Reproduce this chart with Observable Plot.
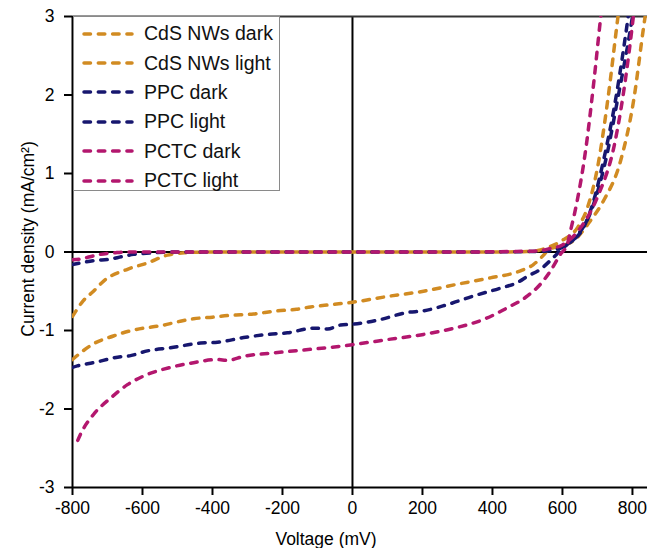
<!DOCTYPE html>
<html>
<head>
<meta charset="utf-8">
<script src="https://cdn.jsdelivr.net/npm/d3@7"></script>
<script src="https://cdn.jsdelivr.net/npm/@observablehq/plot@0.6"></script>
<style>
  html, body { margin: 0; padding: 0; background: #fff; }
  #wrap { position: relative; width: 647px; height: 548px; font-family: "Liberation Sans", Arial, sans-serif; }
  #legend { position: absolute; left: 73px; top: 16px; width: 207px; height: 175px; border: 1px solid #8a8a8a; background: #fff; box-sizing: border-box; padding-top: 2px; }
  .row { height: 29.4px; display: flex; align-items: center; font-size: 19.5px; color: #111; }
  .row svg { margin-left: 8px; margin-right: 10px; }
</style>
</head>
<body>
<div id="wrap"><div id="legend"></div></div>
<script>
// Series names and colours
const seriesNames = ["CdS NWs dark", "CdS NWs light", "PPC dark", "PPC light", "PCTC dark", "PCTC light"];
const seriesColors = ["#d18b22", "#d18b22", "#17176f", "#17176f", "#b3176e", "#b3176e"];

// Voltage (mV) / current density (mA/cm²)
const cdsDarkV = [-800,-769,-740,-711,-643,-586,-529,-480,-400,-200,0,200,400,500,530,560,600,643,671,700,729,757,770];
const cdsDarkJ = [-0.82,-0.62,-0.5,-0.37,-0.22,-0.14,-0.04,-0.01,0,0,0,0,0,0.005,0.02,0.06,0.15,0.31,0.56,1.07,1.92,2.94,3.4];

const cdsLightV = [-800,-770,-740,-683,-640,-597,-549,-500,-454,-400,-357,-320,-283,-250,-214,-160,-120,-60,0,109,203,300,394,480,517,535,548,560,600,631,680,717,766,803,833,850];
const cdsLightJ = [-1.37,-1.26,-1.17,-1.07,-1.01,-0.97,-0.94,-0.89,-0.85,-0.83,-0.81,-0.8,-0.79,-0.77,-0.75,-0.73,-0.7,-0.67,-0.64,-0.56,-0.5,-0.41,-0.33,-0.24,-0.16,-0.09,-0.03,0.03,0.08,0.14,0.4,0.65,1.16,1.92,2.9,3.4];

const ppcDarkV = [-800,-777,-740,-691,-660,-625,-600,-500,-300,0,300,500,550,600,640,680,720,760,800,810];
const ppcDarkJ = [-0.16,-0.14,-0.11,-0.09,-0.06,-0.03,-0.02,0,0,0,0,0.005,0.01,0.06,0.2,0.5,1.1,2.0,3.0,3.3];

const ppcLightV = [-800,-786,-740,-671,-634,-586,-520,-434,-386,-311,-243,-186,-111,-71,-34,0,80,157,203,271,346,423,471,500,537,574,590,614,660,689,717,751,786,800];
const ppcLightJ = [-1.47,-1.45,-1.41,-1.34,-1.32,-1.26,-1.22,-1.16,-1.15,-1.09,-1.05,-1.03,-0.97,-0.98,-0.93,-0.92,-0.86,-0.77,-0.75,-0.67,-0.56,-0.46,-0.39,-0.31,-0.22,-0.07,0,0.1,0.31,0.65,1.16,1.92,2.94,3.4];

const pctcDarkV = [-800,-777,-750,-720,-680,-650,-500,-300,0,300,500,540,560,600,650,700,750,780,800,810];
const pctcDarkJ = [-0.1,-0.09,-0.06,-0.03,-0.01,0,0,0,0,0,0.01,0.02,0.04,0.09,0.3,0.7,1.4,2.2,2.9,3.3];

const pctcLightV = [-785,-777,-740,-691,-643,-586,-520,-454,-386,-357,-311,-214,-120,-34,0,109,203,300,374,443,500,537,566,594,614,623,642,666,689,709,720];
const pctcLightJ = [-2.4,-2.32,-2.07,-1.86,-1.69,-1.56,-1.47,-1.41,-1.37,-1.38,-1.33,-1.28,-1.24,-1.2,-1.18,-1.11,-1.05,-0.96,-0.86,-0.71,-0.56,-0.41,-0.24,-0.03,0.1,0.27,0.65,1.29,2.14,2.98,3.4];

const xTicks = [-800,-600,-400,-200,0,200,400,600,800];
const yTicks = [-3,-2,-1,0,1,2,3];

const seriesV = [cdsDarkV, cdsLightV, ppcDarkV, ppcLightV, pctcDarkV, pctcLightV];
const seriesJ = [cdsDarkJ, cdsLightJ, ppcDarkJ, ppcLightJ, pctcDarkJ, pctcLightJ];

const data = seriesNames.flatMap((name, i) => seriesV[i].map((v, k) => ({series: name, v, j: seriesJ[i][k]})));

const dash = "6.5,7.8";
const font = 17.5;

const plot = Plot.plot({
  width: 647,
  height: 548,
  marginLeft: 72,
  marginRight: 0,
  marginTop: 16,
  marginBottom: 61,
  style: {fontFamily: "Liberation Sans, Arial, sans-serif", fontSize: font + "px", background: "#fff", overflow: "visible", color: "#000"},
  x: {domain: [-800, 843]},
  y: {domain: [-3, 3]},
  color: {domain: seriesNames, range: seriesColors},
  marks: [
    Plot.ruleY([0], {stroke: "#000", strokeWidth: 2}),
    Plot.ruleX([0], {stroke: "#000", strokeWidth: 2}),
    Plot.ruleY([3], {stroke: "#333", strokeWidth: 2}),
    Plot.ruleY([-3], {stroke: "#000", strokeWidth: 2}),
    Plot.ruleX([-800], {stroke: "#000", strokeWidth: 2}),
    Plot.line(data, {x: "v", y: "j", z: "series", stroke: "series", strokeWidth: 3.5, strokeDasharray: dash, strokeLinecap: "round", curve: "monotone-x", clip: true}),
    Plot.axisX({ticks: xTicks, tickSize: 8, tickPadding: 6, tickFormat: d => String(d), label: null, strokeWidth: 2, fontSize: font}),
    Plot.axisY({ticks: yTicks, tickSize: 8, tickPadding: 10, tickFormat: d => String(d), label: null, strokeWidth: 2, fontSize: font}),
    Plot.text(["Voltage (mV)"], {frameAnchor: "bottom", lineAnchor: "middle", textAnchor: "middle", dx: -34, dy: 52, fontSize: font, fill: "#000"}),
    Plot.text(["Current density (mA/cm²)"], {frameAnchor: "left", lineAnchor: "middle", textAnchor: "middle", rotate: -90, dx: -44, dy: -13, fontSize: font, fill: "#000"})
  ]
});
document.getElementById("wrap").prepend(plot);

// Legend
const legend = document.getElementById("legend");
seriesNames.forEach((name, i) => {
  const row = document.createElement("div");
  row.className = "row";
  row.innerHTML = `<svg width="52" height="8"><line x1="2" y1="4" x2="50" y2="4" stroke="${seriesColors[i]}" stroke-width="3.5" stroke-linecap="round" stroke-dasharray="${dash}"/></svg><span>${name}</span>`;
  legend.appendChild(row);
});
</script>
</body>
</html>
